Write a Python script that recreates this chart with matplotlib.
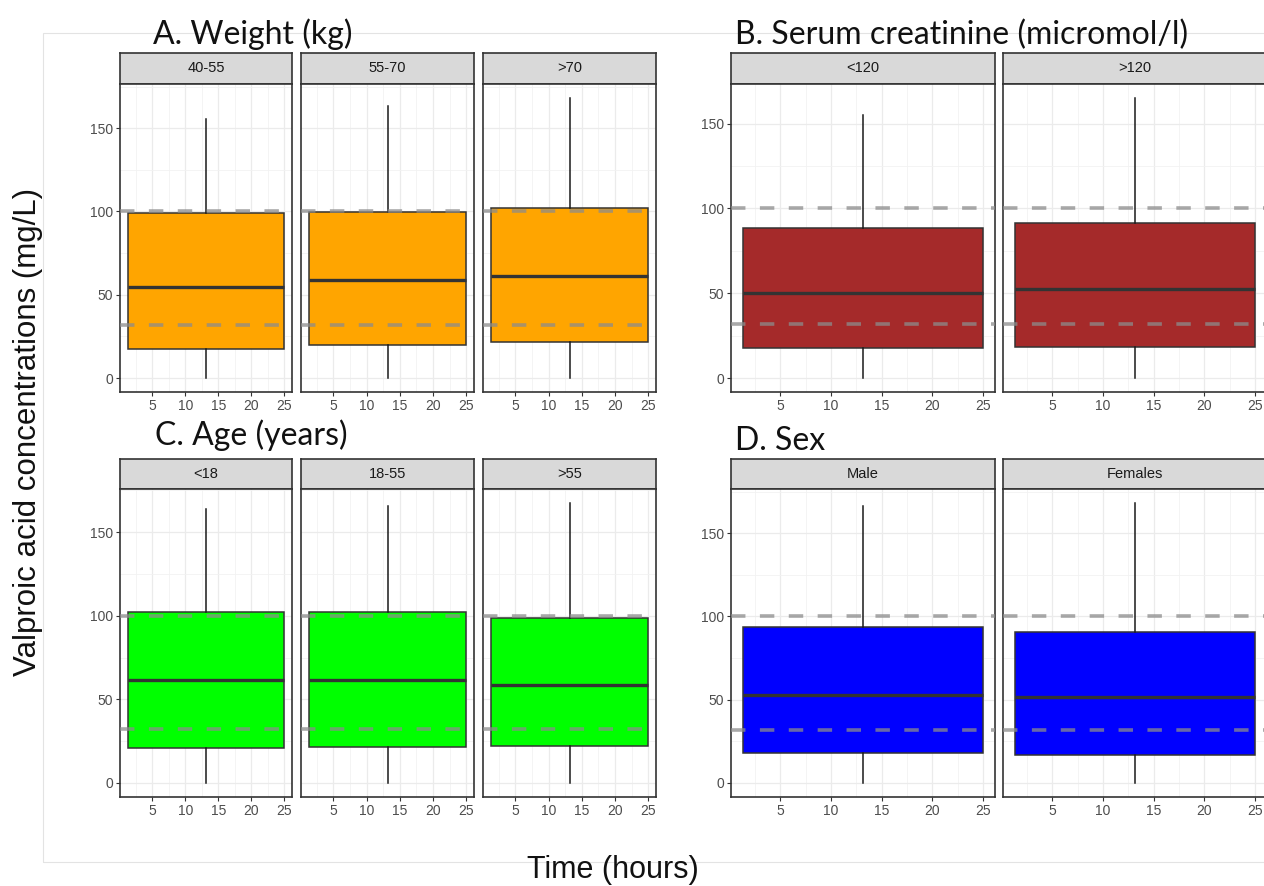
import numpy as np
import matplotlib
matplotlib.use('Agg')
import matplotlib.pyplot as plt
from matplotlib.ticker import MultipleLocator
from matplotlib.patches import Rectangle

# box statistics of valproic acid concentration (mg/L) per covariate group
weight_groups = ['40-55', '55-70', '>70']
weight_lo = [0, 0, 0]
weight_q1 = [17.5, 20.1, 21.9]
weight_med = [54.6, 58.6, 61.2]
weight_q3 = [98.8, 99.6, 102.2]
weight_hi = [155.4, 163.0, 168.1]

creat_groups = ['<120', '>120']
creat_lo = [0, 0]
creat_q1 = [17.4, 18.3]
creat_med = [49.9, 52.6]
creat_q3 = [88.3, 91.3]
creat_hi = [155.3, 165.1]

age_groups = ['<18', '18-55', '>55']
age_lo = [0, 0, 0]
age_q1 = [21.0, 21.4, 22.0]
age_med = [61.4, 61.4, 58.4]
age_q3 = [102.4, 102.0, 98.4]
age_hi = [163.9, 165.4, 167.4]

sex_groups = ['Male', 'Females']
sex_lo = [0, 0]
sex_q1 = [17.8, 16.9]
sex_med = [52.6, 51.4]
sex_q3 = [93.4, 90.7]
sex_hi = [166.0, 168.1]

# sampling times covered by each box (hours)
time_first = 1.3
time_last = 25.0

# reference lines (mg/L)
ref_lines = [32, 100]

W, H = 1264, 886
fig = plt.figure(figsize=(W / 100, H / 100), dpi=100)
fig.patch.set_facecolor('white')

# faint outer frame
fig.add_artist(Rectangle((43 / W, 1 - 862 / H), (1275 - 43) / W, (862 - 33) / H,
                         transform=fig.transFigure, fill=False,
                         edgecolor='#e3e3e3', lw=0.8))


def px_axes(x0, y0, x1, y1):
    return fig.add_axes([x0 / W, 1 - y1 / H, (x1 - x0) / W, (y1 - y0) / H])


def draw_panel(title, tx, ty, groups, lo, q1, med, q3, hi, color,
               xs, strip_top, strip_bot, plot_bot):
    fig.text(tx / W, 1 - ty / H, title, fontsize=23, family='Lato',
             ha='left', va='baseline', color='#111111')
    ymin, ymax = min(lo), max(hi)
    pad = 0.05 * (ymax - ymin)
    span = time_last - time_first
    centre = (time_first + time_last) / 2
    for i, g in enumerate(groups):
        x0, x1 = xs[i]
        # facet strip
        sa = px_axes(x0, strip_top, x1, strip_bot)
        sa.set_facecolor('#d9d9d9')
        sa.set_xticks([])
        sa.set_yticks([])
        for s in sa.spines.values():
            s.set_color('#333333')
            s.set_linewidth(1.2)
        sa.text(0.5, 0.5, g, ha='center', va='center', fontsize=10.5,
                color='#1a1a1a', family='Liberation Sans',
                transform=sa.transAxes)

        ax = px_axes(x0, strip_bot, x1, plot_bot)
        stats = [dict(med=med[i], q1=q1[i], q3=q3[i],
                      whislo=lo[i], whishi=hi[i], fliers=[])]
        ax.bxp(stats, positions=[centre], widths=[span], patch_artist=True,
               showcaps=False, showfliers=False,
               boxprops=dict(facecolor=color, edgecolor='#333333', lw=1.1),
               medianprops=dict(color='#333333', lw=2.4),
               whiskerprops=dict(color='#1a1a1a', lw=1.1), zorder=2)
        for r in ref_lines:
            ax.axhline(r, color='#8c8c8c', alpha=0.75, lw=2.6,
                       dashes=(4, 4), zorder=3)
        ax.set_xlim(time_first - 0.05 * span, time_last + 0.05 * span)
        ax.set_ylim(ymin - pad, ymax + pad)
        ax.xaxis.set_major_locator(MultipleLocator(5))
        ax.xaxis.set_minor_locator(MultipleLocator(2.5))
        ax.yaxis.set_major_locator(MultipleLocator(50))
        ax.yaxis.set_minor_locator(MultipleLocator(25))
        ax.set_xticks([5, 10, 15, 20, 25])
        ax.set_xticklabels(['5', '10', '15', '20', '25'])
        ax.grid(which='major', color='#ebebeb', lw=0.9)
        ax.grid(which='minor', color='#f2f2f2', lw=0.6)
        ax.set_axisbelow(True)
        ax.tick_params(which='major', direction='out', length=3,
                       color='#333333', labelcolor='#4d4d4d', labelsize=10,
                       width=0.8, pad=2)
        ax.tick_params(which='minor', length=0)
        for lab in ax.get_xticklabels() + ax.get_yticklabels():
            lab.set_family('Liberation Sans')
        if i > 0:
            ax.tick_params(axis='y', which='both', length=0, labelleft=False)
        for s in ax.spines.values():
            s.set_color('#333333')
            s.set_linewidth(1.2)


left_x = [(120, 292), (301, 474), (483, 656)]
right_x = [(731, 995), (1003, 1267)]

draw_panel('A. Weight (kg)', 153, 44, weight_groups, weight_lo, weight_q1,
           weight_med, weight_q3, weight_hi, '#FFA500', left_x, 53, 84, 392)
draw_panel('B. Serum creatinine (micromol/l)', 735, 44, creat_groups, creat_lo,
           creat_q1, creat_med, creat_q3, creat_hi, '#A52A2A', right_x, 53, 84, 392)
draw_panel('C. Age (years)', 155, 445, age_groups, age_lo, age_q1, age_med,
           age_q3, age_hi, '#00FF00', left_x, 459, 489, 797)
draw_panel('D. Sex', 735, 450, sex_groups, sex_lo, sex_q1, sex_med, sex_q3,
           sex_hi, '#0000FF', right_x, 459, 489, 797)

fig.text(28 / W, 1 - 432 / H, 'Valproic acid concentrations (mg/L)',
         rotation=90, ha='center', va='center', fontsize=22.5,
         family='Liberation Sans', color='#111111')
fig.text(613 / W, 1 - 870 / H, 'Time (hours)', ha='center', va='center',
         fontsize=22, family='Liberation Sans', color='#111111')

fig.savefig('out.png', dpi=100, facecolor='white')
